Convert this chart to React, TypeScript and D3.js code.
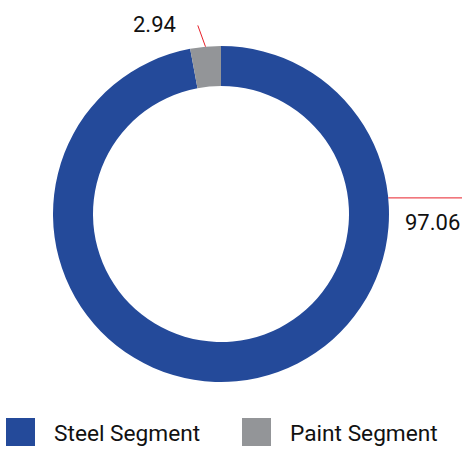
import React from "react";
import * as d3 from "d3";

const categories = ["Steel Segment", "Paint Segment"];
const values = [97.06, 2.94];
const labels = ["97.06", "2.94"];
const colors = ["#244a9a", "#939598"];

const W = 469;
const H = 454;
const cx = 221;
const cy = 214;
const outerR = 168;
const innerR = 128;

export default function App() {
  const pie = d3.pie<number>().sort(null).value((d) => d)(values);
  const arc = d3.arc<d3.PieArcDatum<number>>().innerRadius(innerR).outerRadius(outerR);

  // label anchor angles (radians, clockwise from 12 o'clock)
  const steelAngle = Math.PI / 2 - (5.5 * Math.PI) / 180;
  const paintMid = (pie[1].startAngle + pie[1].endAngle) / 2;
  const pt = (a: number, r: number) => [cx + r * Math.sin(a), cy - r * Math.cos(a)];

  const s0 = pt(steelAngle, outerR);
  const p0 = pt(paintMid, outerR);
  const p1 = pt(paintMid - 0.03, outerR + 22);

  const legendX = d3.scaleOrdinal<string, number>().domain(categories).range([6, 242]);

  return (
    <svg width={W} height={H} style={{ position: "absolute", left: 0, top: 0, fontFamily: "Roboto, sans-serif" }}>
      <rect width={W} height={H} fill="#fff" />
      <g transform={`translate(${cx},${cy})`}>
        {pie.map((p, i) => (
          <path key={i} d={arc(p) || ""} fill={colors[i]} />
        ))}
      </g>
      <line x1={s0[0]} y1={s0[1]} x2={462} y2={s0[1]} stroke="#e8202a" strokeWidth={1} />
      <text x={405} y={230} fontSize={22} fill="#111">{labels[0]}</text>
      <line x1={p0[0]} y1={p0[1]} x2={p1[0]} y2={p1[1]} stroke="#e8202a" strokeWidth={1} />
      <text x={133} y={32} fontSize={22} fill="#111">{labels[1]}</text>
      {categories.map((c, i) => (
        <g key={c} transform={`translate(${legendX(c)},418)`}>
          <rect width={29} height={28} fill={colors[i]} />
          <text x={48} y={23} fontSize={22.7} fill="#111">{c}</text>
        </g>
      ))}
    </svg>
  );
}
